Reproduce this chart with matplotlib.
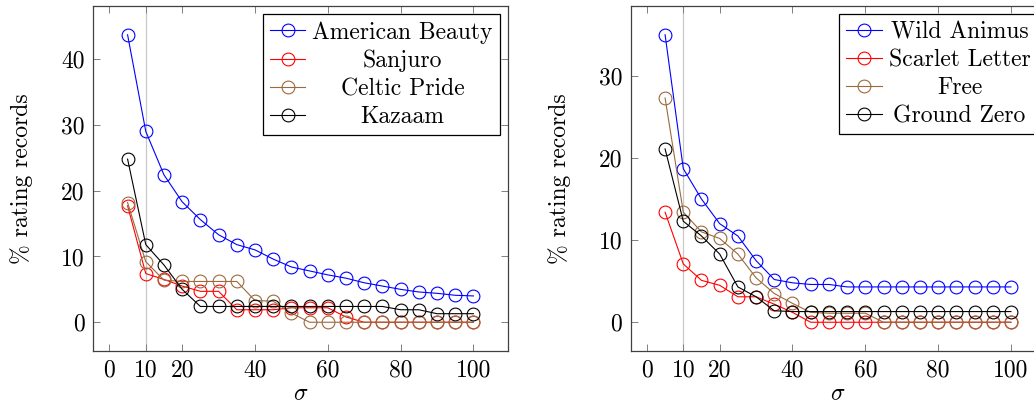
import matplotlib
matplotlib.use("Agg")
import matplotlib.pyplot as plt

plt.rcParams['font.family'] = ['cmr10', 'DejaVu Serif']
plt.rcParams['mathtext.fontset'] = 'cm'
plt.rcParams['axes.unicode_minus'] = False
plt.rcParams['axes.formatter.use_mathtext'] = True

# =====================================================
# Data
# =====================================================
sigma = [5, 10, 15, 20, 25, 30, 35, 40, 45, 50, 55, 60, 65, 70, 75, 80, 85, 90, 95, 100]

american_beauty = [43.7, 29.0, 22.4, 18.3, 15.6, 13.3, 11.8, 11.0, 9.6, 8.4,
                   7.8, 7.2, 6.7, 6.0, 5.5, 5.0, 4.6, 4.4, 4.1, 4.0]
sanjuro = [17.7, 7.4, 6.5, 5.5, 4.7, 4.7, 1.9, 1.9, 1.9, 2.2,
           2.2, 2.2, 0.8, 0, 0, 0, 0, 0, 0, 0]
celtic_pride = [18.2, 9.2, 6.4, 6.2, 6.2, 6.2, 6.2, 3.3, 3.2, 1.4,
                0, 0, 0, 0, 0, 0, 0, 0, 0, 0]
kazaam = [24.8, 11.8, 8.7, 5.0, 2.4, 2.4, 2.4, 2.4, 2.4, 2.4,
          2.4, 2.4, 2.4, 2.4, 2.4, 1.9, 1.9, 1.3, 1.3, 1.3]

wild_animus = [35.0, 18.7, 15.0, 12.0, 10.5, 7.5, 5.2, 4.8, 4.6, 4.6,
               4.3, 4.3, 4.3, 4.3, 4.3, 4.3, 4.3, 4.3, 4.3, 4.3]
scarlet_letter = [13.4, 7.1, 5.1, 4.5, 3.1, 3.1, 2.2, 1.2, 0, 0,
                  0, 0, 0, 0, 0, 0, 0, 0, 0, 0]
free = [27.3, 13.4, 11.0, 10.2, 8.3, 5.4, 3.5, 2.3, 1.2, 1.1,
        1.1, 1.1, 0, 0, 0, 0, 0, 0, 0, 0]
ground_zero = [21.1, 12.3, 10.5, 8.3, 4.3, 3.1, 1.4, 1.3, 1.3, 1.3,
               1.3, 1.3, 1.3, 1.3, 1.3, 1.3, 1.3, 1.3, 1.3, 1.3]

left_names = ['American Beauty', 'Sanjuro', 'Celtic Pride', 'Kazaam']
right_names = ['Wild Animus', 'Scarlet Letter', 'Free', 'Ground Zero']
colors = ['#0000ff', '#ff0000', '#9a6a3e', '#000000']

x_ticks = [0, 10, 20, 40, 60, 80, 100]
left_y_ticks = [0, 10, 20, 30, 40]
right_y_ticks = [0, 10, 20, 30]
marked_sigma = 10

FS = 17


def draw_panel(ax, series, names, y_ticks, ylim):
    ax.axvline(marked_sigma, color='#c8c8c8', lw=0.9, zorder=0)
    for vals, name, c in zip(series, names, colors):
        ax.plot(sigma, vals, color=c, lw=0.8, marker='o', ms=9.2,
                mfc='none', mec=c, mew=0.8, label=name)
    ax.set_xlim(-4.5, 109.5)
    ax.set_ylim(*ylim)
    ax.set_xticks(x_ticks)
    ax.set_xticklabels([str(t) for t in x_ticks])
    ax.set_yticks(y_ticks)
    ax.set_yticklabels([str(t) for t in y_ticks])
    ax.tick_params(direction='in', length=5, width=0.7, color='#808080',
                   top=True, right=True, labelsize=FS, pad=6)
    for s in ax.spines.values():
        s.set_color('#404040')
        s.set_linewidth(0.9)
    ax.set_xlabel(r'$\sigma$', fontsize=FS, labelpad=1)
    ax.set_ylabel('% rating records', fontsize=FS, labelpad=20)
    leg = ax.legend(loc='upper right', fontsize=FS, frameon=True, fancybox=False,
                    framealpha=1, edgecolor='black', borderpad=0.3,
                    labelspacing=0.25, handlelength=1.5, handletextpad=0.3,
                    borderaxespad=0.34)
    leg.get_frame().set_linewidth(0.9)
    return leg


fig = plt.figure(figsize=(10.34, 4.11), dpi=100)
W, H = 1034.0, 411.0
ax1 = fig.add_axes([93 / W, 60 / H, 415 / W, 345 / H])
ax2 = fig.add_axes([630.5 / W, 60 / H, 415 / W, 345 / H])

leg1 = draw_panel(ax1, [american_beauty, sanjuro, celtic_pride, kazaam],
                  left_names, left_y_ticks, (-4.37, 48.07))
leg2 = draw_panel(ax2, [wild_animus, scarlet_letter, free, ground_zero],
                  right_names, right_y_ticks, (-3.5, 38.5))

# centre the legend labels like pgfplots does
fig.canvas.draw()
r = fig.canvas.get_renderer()
for leg in (leg1, leg2):
    texts = leg.get_texts()
    widths = [t.get_window_extent(r).width for t in texts]
    maxw = max(widths)
    for t, w in zip(texts, widths):
        t.set_position(((maxw - w) / 2.0, 0))

fig.savefig('out.png', dpi=100)
